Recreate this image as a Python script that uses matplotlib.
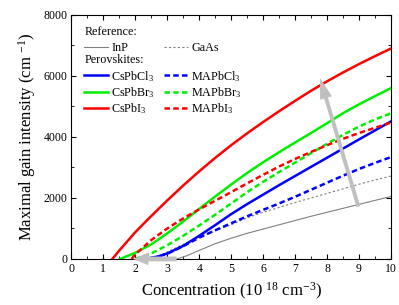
import matplotlib
matplotlib.use("Agg")
import matplotlib.pyplot as plt
from matplotlib.lines import Line2D

plt.rcParams['font.family'] = ['Liberation Serif', 'DejaVu Serif']
plt.rcParams['mathtext.fontset'] = 'custom'
plt.rcParams['mathtext.rm'] = 'Liberation Serif'
plt.rcParams['mathtext.it'] = 'Liberation Serif:italic'

# reference semiconductors
inp_x = [3.3, 3.6, 4.0, 4.5, 5.0, 5.5, 6.0, 6.5, 7.0, 7.5, 8.0, 8.5, 9.0, 9.5, 10.0]
inp_y = [0, 100, 280, 500, 680, 840, 980, 1120, 1260, 1400, 1530, 1660, 1790, 1920, 2050]
gaas_x = [2.6, 3.0, 3.5, 4.0, 4.5, 5.0, 5.5, 6.0, 6.5, 7.0, 7.5, 8.0, 8.5, 9.0, 9.5, 10.0]
gaas_y = [0, 230, 480, 720, 920, 1120, 1350, 1530, 1690, 1850, 2000, 2150, 2300, 2450, 2590, 2720]

# perovskites (solid = Cs, dashed = MA)
cscl_x = [2.3, 2.7, 3.0, 3.5, 4.0, 4.5, 5.0, 5.5, 6.0, 6.5, 7.0, 7.5, 8.0, 8.5, 9.0, 9.5, 10.0]
cscl_y = [0, 80, 180, 430, 760, 1110, 1470, 1800, 2110, 2420, 2720, 3020, 3320, 3620, 3920, 4215, 4510]
csbr_x = [1.52, 2.0, 2.5, 3.0, 3.5, 4.0, 4.5, 5.0, 5.5, 6.0, 6.5, 7.0, 7.5, 8.0, 8.5, 9.0, 9.5, 10.0]
csbr_y = [0, 200, 480, 840, 1230, 1640, 2050, 2440, 2820, 3170, 3500, 3820, 4130, 4450, 4780, 5070, 5340, 5600]
csi_x = [1.28, 1.5, 2.0, 2.5, 3.0, 3.5, 4.0, 4.5, 5.0, 5.5, 6.0, 6.5, 7.0, 7.5, 8.0, 8.5, 9.0, 9.5, 10.0]
csi_y = [0, 280, 880, 1410, 1920, 2410, 2875, 3315, 3730, 4120, 4490, 4845, 5185, 5515, 5825, 6115, 6390, 6650, 6900]

macl_x = [2.5, 3.0, 3.5, 4.0, 4.5, 5.0, 5.5, 6.0, 6.5, 7.0, 7.5, 8.0, 8.5, 9.0, 9.5, 10.0]
macl_y = [0, 170, 420, 700, 940, 1170, 1400, 1610, 1820, 2040, 2270, 2500, 2730, 2950, 3150, 3340]
mabr_x = [2.0, 2.5, 3.0, 3.5, 4.0, 4.5, 5.0, 5.5, 6.0, 6.5, 7.0, 7.5, 8.0, 8.5, 9.0, 9.5, 10.0]
mabr_y = [0, 180, 450, 760, 1100, 1450, 1820, 2190, 2530, 2850, 3160, 3470, 3775, 4070, 4340, 4575, 4775]
mai_x = [1.88, 2.0, 2.5, 3.0, 3.5, 4.0, 4.5, 5.0, 5.5, 6.0, 6.5, 7.0, 7.5, 8.0, 8.5, 9.0, 9.5, 10.0]
mai_y = [0, 150, 620, 1000, 1330, 1630, 1910, 2190, 2480, 2760, 3030, 3280, 3510, 3730, 3940, 4130, 4300, 4470]

fig = plt.figure(figsize=(3.99, 3.05), dpi=100)
ax = fig.add_axes([0.179, 0.151, 0.801, 0.80])

lw = 1.8
dash = (0, (2.2, 1.3))
ax.plot(inp_x, inp_y, color='#808080', lw=0.8)
ax.plot(gaas_x, gaas_y, color='#808080', lw=0.8, ls=(0, (2, 2)))
ax.plot(cscl_x, cscl_y, color='#0000ff', lw=lw)
ax.plot(csbr_x, csbr_y, color='#00ee00', lw=lw)
ax.plot(csi_x, csi_y, color='#ff0000', lw=lw)
ax.plot(macl_x, macl_y, color='#0000ff', lw=lw, ls=dash)
ax.plot(mabr_x, mabr_y, color='#00ee00', lw=lw, ls=dash)
ax.plot(mai_x, mai_y, color='#ff0000', lw=lw, ls=dash)

# grey arrows
arr = dict(facecolor='#c0c0c0', edgecolor='none', width=2.8, headwidth=9, headlength=15)
ax.annotate('', xy=(7.78, 5930), xytext=(8.98, 1715), arrowprops=arr)
ax.annotate('', xy=(1.93, 0), xytext=(3.29, 0),
            arrowprops=dict(facecolor='#c0c0c0', edgecolor='none', width=3.5, headwidth=9, headlength=11))

ax.set_xlim(0, 10)
ax.set_ylim(0, 8000)
ax.set_xticks(range(0, 11))
ax.set_yticks([0, 2000, 4000, 6000, 8000])
ax.set_xticks([i + 0.5 for i in range(10)], minor=True)
ax.set_yticks([1000, 3000, 5000, 7000], minor=True)
ax.tick_params(which='both', direction='in', top=True, right=True, labelsize=8.5, pad=3)
ax.tick_params(which='major', length=3.5)
ax.tick_params(which='minor', length=2)
ax.set_xlabel('Concentration (10 $^{18}$ cm$^{-3}$)', fontsize=12, labelpad=4)
ax.set_ylabel('Maximal gain intensity (cm $^{-1}$)', fontsize=12, labelpad=4)

blank = Line2D([], [], color='none')
h = [blank,
     Line2D([], [], color='#808080', lw=0.8),
     blank,
     Line2D([], [], color='#0000ff', lw=lw),
     Line2D([], [], color='#00ee00', lw=lw),
     Line2D([], [], color='#ff0000', lw=lw),
     blank,
     Line2D([], [], color='#808080', lw=0.8, ls=(0, (2, 2))),
     blank,
     Line2D([], [], color='#0000ff', lw=lw, ls=dash),
     Line2D([], [], color='#00ee00', lw=lw, ls=dash),
     Line2D([], [], color='#ff0000', lw=lw, ls=dash)]
labels = [' ', 'InP', ' ', 'CsPbCl$_3$', 'CsPbBr$_3$', 'CsPbI$_3$',
          ' ', 'GaAs', ' ', 'MAPbCl$_3$', 'MAPbBr$_3$', 'MAPbI$_3$']
ax.legend(h, labels, ncol=2, loc='upper left', bbox_to_anchor=(0.04, 0.945),
          frameon=False, fontsize=8.7, handlelength=2.0, handletextpad=0.25,
          columnspacing=0.75, labelspacing=0.12, borderpad=0, borderaxespad=0)
ax.text(0.042, 0.93, 'Reference:', transform=ax.transAxes, fontsize=8.7, va='center')
ax.text(0.042, 0.816, 'Perovskites:', transform=ax.transAxes, fontsize=8.7, va='center')

fig.savefig('out.png', dpi=100)
